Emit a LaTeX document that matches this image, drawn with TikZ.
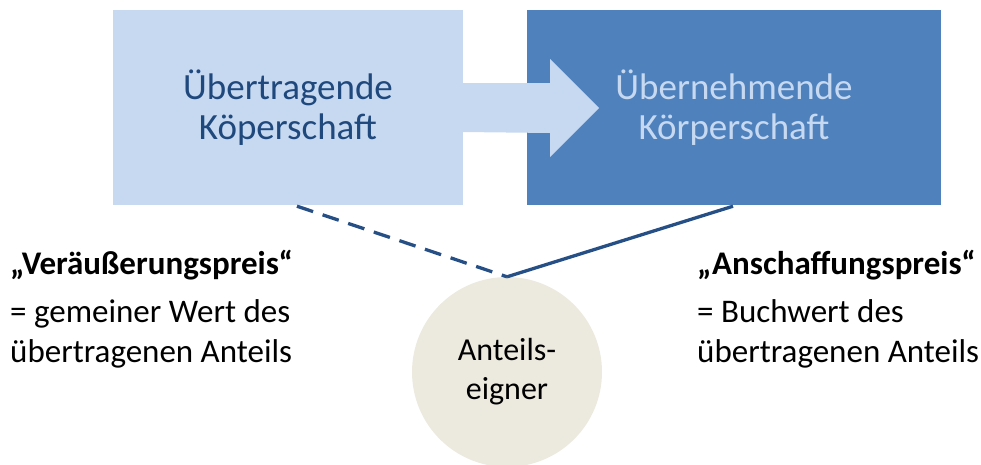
\documentclass[tikz,border=0pt]{standalone}
\usepackage{fontspec}
\setmainfont{Carlito}
\usetikzlibrary{positioning,calc}
\definecolor{lightbox}{HTML}{C6D9F1}
\definecolor{darkbox}{HTML}{4F81BD}
\definecolor{linkblue}{HTML}{264F86}
\definecolor{ownerfill}{HTML}{ECEADF}
\definecolor{boxtext}{HTML}{1F497D}
\tikzstyle{corpbox}=[rectangle,minimum height=195pt,align=center,font=\fontsize{37}{42}\selectfont]
\tikzstyle{pricetext}=[anchor=north west,align=left,inner sep=0pt,font=\fontsize{33}{40}\selectfont]

\begin{document}
\begin{tikzpicture}[x=1pt,y=-1pt]
  \useasboundingbox (0,0) rectangle (981,464);

  \node(owner)[circle,fill=ownerfill,minimum size=190pt,align=center,
    font=\fontsize{32}{39}\selectfont] at (507,372) {Anteils-\\eigner};

  \node(source)[corpbox,fill=lightbox,text=boxtext,minimum width=350pt] at (288,107.5)
    {\raisebox{-2pt}{Übertragende}\\Köperschaft};
  \node(target)[corpbox,fill=darkbox,text=lightbox,minimum width=414pt] at (734,107.5)
    {\raisebox{-2pt}{Übernehmende}\\Körperschaft};

  \fill[lightbox]
    ($(source.east)+(0,-24.5)$) -- ++(87,0) -- ++(0,-24) -- ++(49,49)
    -- ++(-49,49) -- ++(0,-24) -- ($(source.east)+(0,24.5)$) -- cycle;

  \draw[linkblue,line width=3.3pt,dash pattern=on 17pt off 10pt]
    ($(source.south)+(9,1)$) -- (owner.north);
  \draw[linkblue,line width=3.3pt] ($(target.south)+(-1,1)$) -- (owner.north);

  \node(sale)[pricetext] at (10,250)
    {\textbf{„Veräußerungspreis“}\\[8pt]= gemeiner Wert des\\übertragenen Anteils};
  \node(purchase)[pricetext] at (697,250)
    {\textbf{„Anschaffungspreis“}\\[8pt]= Buchwert des\\übertragenen Anteils};
\end{tikzpicture}
\end{document}
